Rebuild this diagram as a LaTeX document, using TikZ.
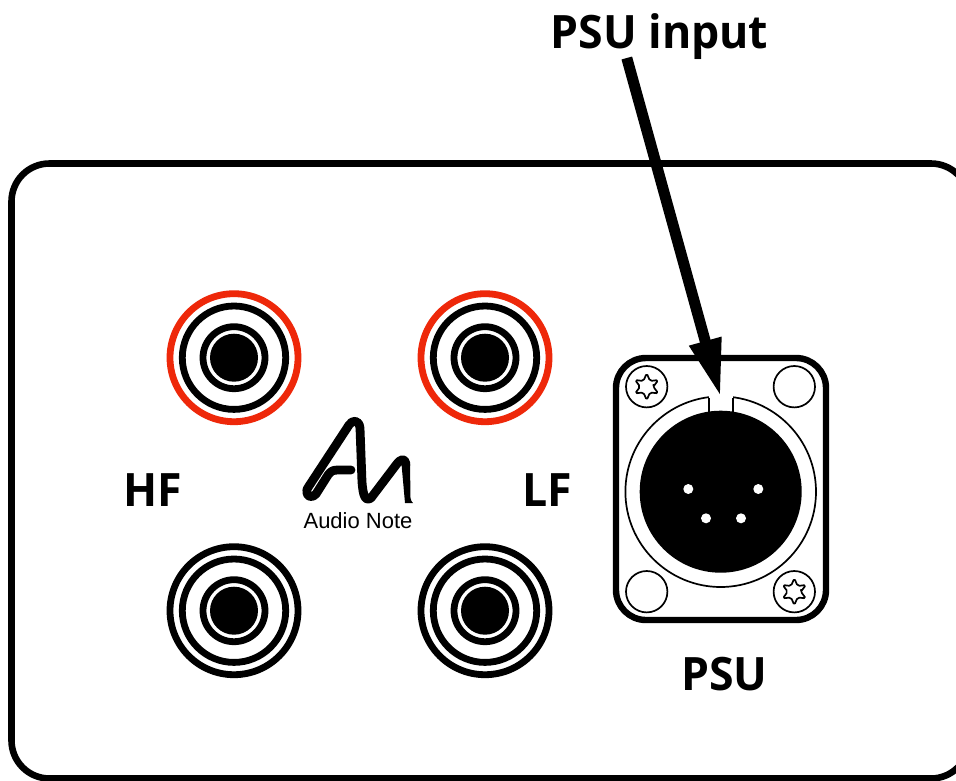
\documentclass[tikz,border=0pt]{standalone}
\usepackage{fontspec}
\setmainfont{Open Sans}
\newfontfamily\logofont{Liberation Sans}
\usetikzlibrary{arrows.meta}
\definecolor{rcared}{RGB}{238,40,10}
\tikzset{
  panel/.style={draw=black,line width=6.6pt,rounded corners=38pt,fill=white},
  labeltext/.style={inner sep=0pt,anchor=base,xscale=.97,font=\bfseries\fontsize{46}{46}\selectfont},
  hairline/.style={draw=black,line width=1.7pt,line join=round},
  logostroke/.style={draw=black,line width=8.8pt,line cap=round,line join=round},
}
% RCA socket
\newcommand{\rcajack}[3]{%
  \draw[draw=#3,line width=6.8pt] (#1,#2) circle[radius=64pt];
  \draw[line width=6.8pt] (#1,#2) circle[radius=51.7pt];
  \draw[line width=6.8pt] (#1,#2) circle[radius=31pt];
  \fill (#1,#2) circle[radius=24pt];
}
\newcommand{\torxscrew}[2]{%
  \draw[hairline] (#1,#2) circle[radius=20.7pt];
  \draw[hairline,rounded corners=1.8pt,samples=13,domain=0:360,variable=\t]
    plot ({#1+(10+3.4*cos(6*(\t-90)))*cos(\t)},{#2+(10+3.4*cos(6*(\t-90)))*sin(\t)}) -- cycle;
}
\begin{document}
\begin{tikzpicture}[x=1pt,y=-1pt]
\useasboundingbox (0,0) rectangle (956,780);
\fill[white] (0,0) rectangle (956,780);
\clip (0,0) rectangle (956,780);
% panel
\draw[panel] (11.5,163.5) rectangle (969,778.5);
% RCA sockets
\rcajack{234}{357.7}{rcared}
\rcajack{485}{357.7}{rcared}
\rcajack{234}{610.7}{black}
\rcajack{485}{610.7}{black}
% XLR housing
\draw[line width=6.4pt,rounded corners=30pt,fill=white] (616,358) rectangle (826,620);
\torxscrew{646.7}{386.7}
\draw[hairline] (794.3,386.7) circle[radius=20.7pt];
\draw[hairline] (646.7,591.7) circle[radius=20.7pt];
\torxscrew{794.3}{591.7}
\draw[hairline] (720.7,491.7) circle[radius=95.3pt];
\fill[white] (709,385) rectangle (732.7,412);
\fill (720.7,491.7) circle[radius=81pt];
\draw[hairline] (709,397.5) -- (709,412);
\draw[hairline] (732.7,397.5) -- (732.7,412);
\foreach \px/\py in {688.3/489,758.3/489,706/518.3,741/518.3}
  \fill[white] (\px,\py) circle[radius=5pt];
% logo
\draw[logostroke] (351,470) -- (338,470) .. controls (333,470) and (331,471) .. (328,475)
  -- (316,494) .. controls (313,498) and (307,497) .. (307,493)
  .. controls (306,491) and (307,489) .. (309,486)
  -- (349,425) .. controls (352,420) and (359,419) .. (360,428)
  -- (362,482) .. controls (363,495) and (365,502) .. (371,498)
  -- (396,465) .. controls (401,458) and (405,458) .. (406,464);
\fill (401.5,464) .. controls (404,457) and (408,457) .. (410,464) -- (410.5,498)
  .. controls (411,501) and (412,502) .. (413,503) -- (405,503) -- cycle;
\node[inner sep=0pt,anchor=base,font=\logofont\fontsize{22}{22}\selectfont] (logotext) at (358,528) {Audio Note};
% labels
\node[labeltext] (hf) at (153,506) {HF};
\node[labeltext] (lf) at (547,506) {LF};
\node[labeltext] (psu) at (724.5,690) {PSU};
\node[labeltext] (psuinput) at (659.5,48) {PSU input};
% arrow
\coordinate (arrowfrom) at (626.8,58);
\coordinate (arrowtip) at (720.7,397);
\draw[line width=11pt,-{Triangle[length=58pt,width=30.5pt]}] (arrowfrom) -- (arrowtip);
\end{tikzpicture}
\end{document}
